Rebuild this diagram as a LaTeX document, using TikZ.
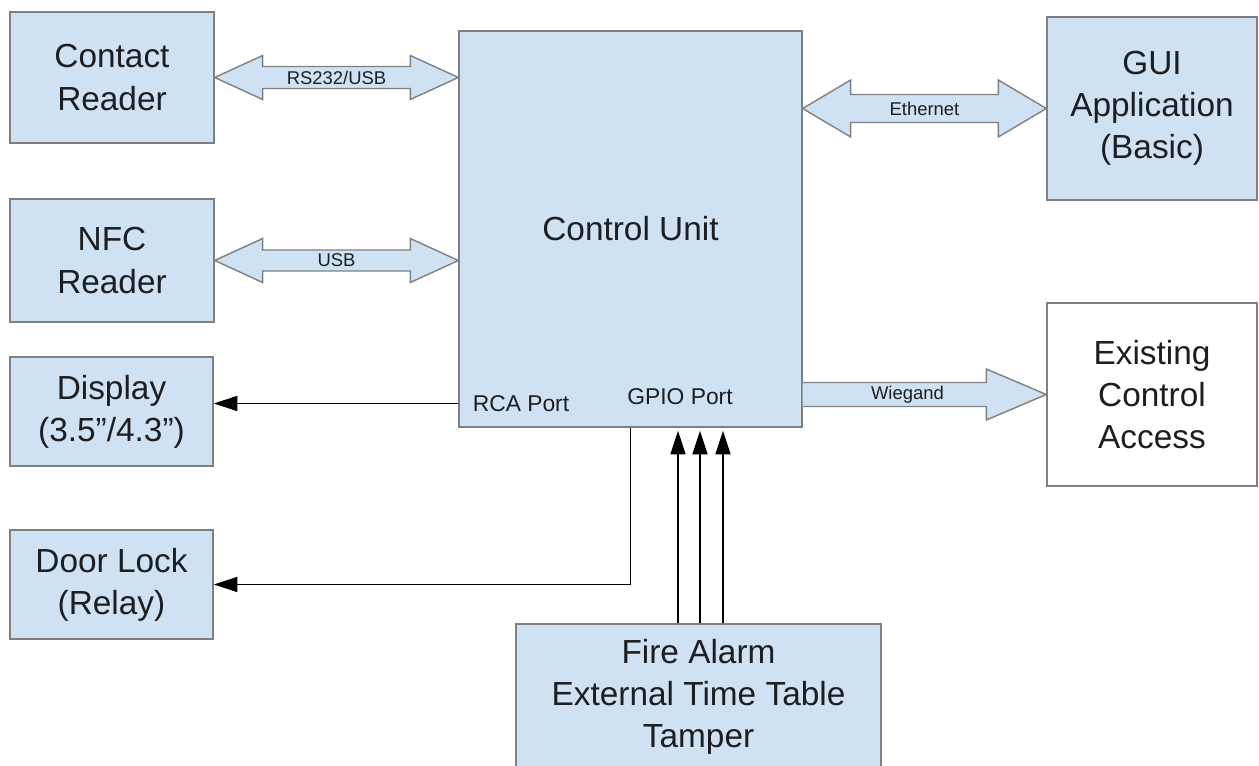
\documentclass[tikz,border=0pt]{standalone}
\usepackage{fontspec}
\setmainfont{Liberation Sans}
\usetikzlibrary{positioning, calc, arrows.meta}

\definecolor{boxblue}{RGB}{207,226,243}
\definecolor{boxgray}{RGB}{128,128,128}
\definecolor{inkdark}{RGB}{28,30,34}

\begin{document}
\begin{tikzpicture}[x=0.02cm, y=-0.02cm,
    box/.style={draw=boxgray, line width=0.8pt, fill=boxblue, align=center, text=inkdark, inner sep=0pt, font=\fontsize{19}{24}\selectfont},
    blockarrow/.style={draw=boxgray, line width=0.8pt, fill=boxblue},
    lbl/.style={text=inkdark, inner sep=0pt, font=\fontsize{10.5}{12}\selectfont},
    port/.style={text=inkdark, inner sep=0pt, font=\fontsize{13}{15}\selectfont},
    sig/.style={line width=1.05pt, -{Triangle[length=13.5pt, width=8.5pt]}}]
\useasboundingbox[fill=white] (0,0) rectangle (1259,766);

\node[box, minimum width=4.08cm, minimum height=2.62cm] (cr) at (112,77.5) {Contact\\Reader};
\node[box, minimum width=4.08cm, minimum height=2.46cm] (nfc) at (112,260.5) {NFC\\Reader};
\node[box, minimum width=4.06cm, minimum height=2.18cm] (disp) at (111.5,411.5) {Display\\(3.5”/4.3”)};
\node[box, minimum width=4.06cm, minimum height=2.18cm] (door) at (111.5,584.5) {Door Lock\\(Relay)};
\node[box, minimum width=6.86cm, minimum height=7.92cm] (cu) at (630.5,229) {Control Unit};
\node[box, minimum width=4.20cm, minimum height=3.66cm] (gui) at (1152,108.5) {GUI\\Application\\(Basic)};
\node[box, fill=white, minimum width=4.20cm, minimum height=3.66cm] (eca) at (1152,394.5) {Existing\\Control\\Access};
\node[box, minimum width=7.30cm, minimum height=2.92cm] (fire) at (698.5,697) {Fire Alarm\\External Time Table\\Tamper};

\node[port] (rca) at (521,403.5) {RCA Port};
\node[port] (gpio) at (680,397) {GPIO Port};

% block arrows
\draw[blockarrow] (cr.east) -- ++(48,-22) -- ++(0,11) -- ($(cu.west|-cr.east)+(-48,-11)$) -- ++(0,-11) -- (cu.west|-cr.east) -- ++(-48,22) -- ++(0,-11) -- ($(cr.east)+(48,11)$) -- ++(0,11) -- cycle;
\node[lbl] (rs) at ($(cr.east)!0.5!(cu.west|-cr.east)$) {RS232/USB};

\draw[blockarrow] (nfc.east) -- ++(48,-22) -- ++(0,11.5) -- ($(cu.west|-nfc.east)+(-48,-10.5)$) -- ++(0,-11.5) -- (cu.west|-nfc.east) -- ++(-48,22) -- ++(0,-11.5) -- ($(nfc.east)+(48,10.5)$) -- ++(0,11.5) -- cycle;
\node[lbl] (usb) at ($(nfc.east)!0.5!(cu.west|-nfc.east)$) {USB};

\draw[blockarrow] (cu.east|-gui.west) -- ++(48,-28.5) -- ++(0,14.5) -- ($(gui.west)+(-48,-14)$) -- ++(0,-14.5) -- (gui.west) -- ++(-48,28.5) -- ++(0,-14.5) -- ($(cu.east|-gui.west)+(48,14)$) -- ++(0,14.5) -- cycle;
\node[lbl] (eth) at ($(cu.east|-gui.west)!0.5!(gui.west)$) {Ethernet};

\draw[blockarrow] ($(cu.east|-eca.west)+(0,-12)$) -- ($(eca.west)+(-60,-12)$) -- ++(0,-13.5) -- (eca.west) -- ++(-60,25.5) -- ++(0,-13.5) -- ($(cu.east|-eca.west)+(0,12)$);
\node[lbl] (wie) at ($(cu.east|-eca.west)!0.43!(eca.west)$) {Wiegand};

% signal lines
\draw[sig] (cu.west|-rca) -- (disp.east|-rca);
\draw[sig] (cu.south) |- (door.east);
\foreach \dx [count=\i] in {-20.5,1.5,24.5} {
    \coordinate (in\i) at ($(fire.north)+(\dx,0)$);
    \draw[sig, shorten >=0.06cm] (in\i) -- (in\i|-cu.south);
}

\end{tikzpicture}
\end{document}
